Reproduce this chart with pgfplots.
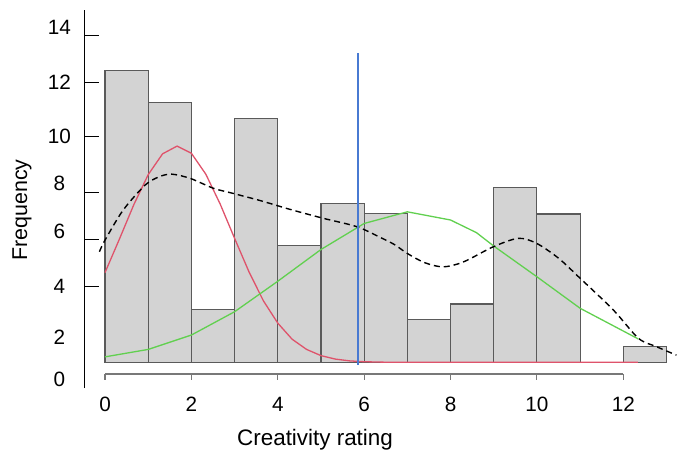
\documentclass[border=0pt]{standalone}
\usepackage{pgfplots}
\pgfplotsset{compat=1.18}
\usepackage{fontspec}
\setmainfont{Liberation Sans}
\definecolor{barfill}{RGB}{211,211,211}
\definecolor{baredge}{RGB}{90,90,90}
\definecolor{rred}{HTML}{DF536B}
\definecolor{rgreen}{HTML}{61D04F}
\definecolor{rblue}{RGB}{72,122,210}
\definecolor{axgray}{RGB}{120,120,120}
\begin{document}
\begin{tikzpicture}
\begin{axis}[
  at={(0,0)}, anchor=south west,
  scale only axis,
  width=594.7bp, height=378bp,
  xmin=-0.48, xmax=13.29,
  ymin=-1.036, ymax=14.21,
  axis lines*=left,
  x axis line style={draw=none},
  y axis line style={black, line width=1.1bp},
  tick align=inside,
  major tick length=15bp,
  xtick={0,2,4,6,8,10,12},
  xtick style={draw=none},
  xticklabel style={inner sep=0pt, anchor=north, yshift=-8.7bp, font=\fontsize{20.8}{24}\selectfont},
  ytick={13.17,11.27,9.10,6.85,4.97,3.05},
  yticklabels={},
  ytick style={black, line width=1.1bp},
  extra y ticks={13.50,11.31,9.13,7.23,5.30,3.06,1.02,-0.70},
  extra y tick labels={14,12,10,8,6,4,2,0},
  extra y tick style={major tick length=0pt, tick style={draw=none},
    tick label style={anchor=center, inner sep=0pt, xshift=-24.8bp, font=\fontsize{20.8}{24}\selectfont}},
  /pgf/number format/assume math mode=true,
  xlabel={Creativity rating},
  xlabel style={at={(axis description cs:0.388,-0.1376)}, anchor=center, font=\fontsize{22.5}{26}\selectfont},
  ylabel={Frequency},
  ylabel style={at={(axis description cs:-0.1048,0.471)}, anchor=center, rotate=0, font=\fontsize{21.5}{25}\selectfont},
  clip=false,
]
% histogram bars
\addplot[ybar interval, fill=barfill, draw=baredge, line width=1.1bp] coordinates {
  (0,11.77) (1,10.48) (2,2.14) (3,9.84) (4,4.70) (5,6.41) (6,5.99)
  (7,1.71) (8,2.35) (9,7.06) (10,5.98) (11,5.98)
};
\addplot[ybar interval, fill=barfill, draw=baredge, line width=1.1bp] coordinates {
  (12,0.63) (13,0.63)
};
% red curve
\addplot[rred, line width=1.3bp] coordinates {
  (0,3.62) (0.333,4.97) (0.667,6.36) (1,7.57) (1.333,8.41) (1.667,8.72)
  (2,8.43) (2.333,7.59) (2.667,6.38) (3,5.00) (3.333,3.65) (3.667,2.48)
  (4,1.58) (4.333,0.93) (4.667,0.52) (5,0.27) (5.333,0.13) (5.667,0.057)
  (6,0.024) (6.333,0.01) (6.667,0) (12.34,0)
};
% green curve
\addplot[rgreen, line width=1.3bp] coordinates {
  (0,0.22) (1,0.52) (2,1.10) (3,2.04) (4,3.27) (5,4.55) (6,5.60) (7,6.07)
  (8,5.74) (8.6,5.23) (9,4.69) (10,3.45) (11,2.18) (12.35,0.94)
};
% dashed density
\addplot[black, line width=1.4bp, dash pattern=on 6bp off 4bp, smooth, tension=0.5] coordinates {
  (-0.13,4.46) (0,4.93) (0.42,6.14) (0.93,7.15) (1.25,7.48) (1.54,7.59)
  (1.97,7.42) (2.51,7.02) (2.97,6.81) (3.6,6.52) (4.28,6.17) (5.05,5.81)
  (5.83,5.47) (6.37,5.04) (6.7,4.75) (7.0,4.39) (7.4,4.02) (7.83,3.85)
  (8.3,4.05) (8.99,4.66) (9.57,5.00) (9.99,4.80) (10.5,4.20) (11.0,3.39)
  (11.77,2.11) (12.35,0.97) (12.77,0.63) (13.23,0.29)
};
% blue vertical line
\addplot[rblue, line width=2bp] coordinates {(5.85,-0.1) (5.85,12.48)};
% R-style x axis
\draw[axgray, line width=1.1bp] (axis cs:0,-0.47) -- (axis cs:12,-0.47);
\pgfplotsinvokeforeach{0,2,4,6,8,10,12}{
  \draw[axgray, line width=1.1bp] (axis cs:#1,-0.47) -- (axis cs:#1,-0.71);
}
\end{axis}
\pgfresetboundingbox
\path[use as bounding box] (-84.3bp,-63bp) rectangle (594.7bp,388bp);
\end{tikzpicture}
\end{document}
